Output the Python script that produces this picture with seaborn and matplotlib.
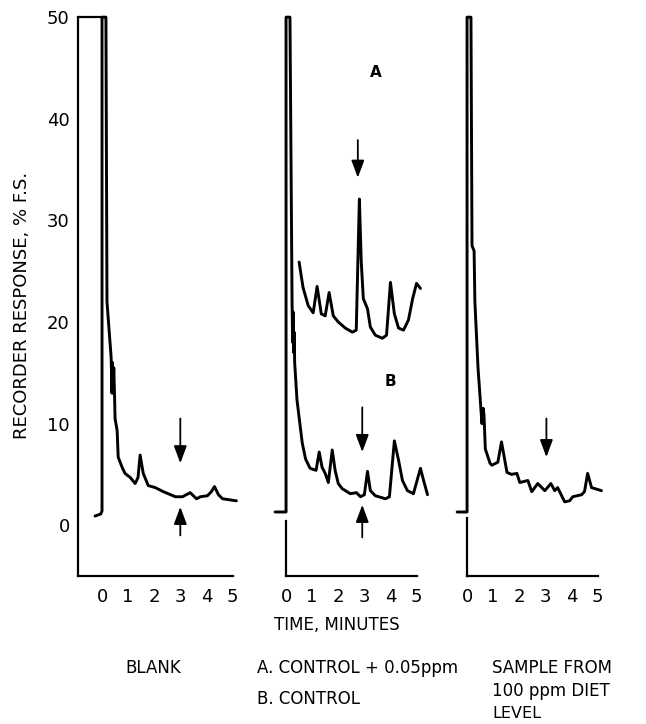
# Chromatograms: blank, control (+ spike) and diet sample
import numpy as np
import matplotlib
matplotlib.use("Agg")
import matplotlib.pyplot as plt
import pandas as pd
import seaborn as sns

# Trace data (time in minutes, recorder response in % full scale)
blank_time = [-0.27, -0.05, 0.0, 0.0, 0.15, 0.19, 0.35, 0.38, 0.40, 0.43, 0.45, 0.48, 0.50, 0.58, 0.62,
              0.77, 0.88, 1.08, 1.27, 1.38, 1.46, 1.58, 1.77, 2.04, 2.35, 2.81, 3.08, 3.23, 3.38, 3.62,
              3.77, 4.04, 4.19, 4.31, 4.46, 4.62, 5.15]
blank_resp = [0.9, 1.1, 1.4, 50, 50, 22, 16.5, 13, 16, 13, 15.5, 12.8, 10.5, 9.3, 6.7,
              5.7, 5.1, 4.7, 4.1, 4.7, 6.9, 5.1, 3.9, 3.7, 3.3, 2.8, 2.8, 3.0, 3.2, 2.6,
              2.8, 2.9, 3.3, 3.8, 3.0, 2.6, 2.4]

control_time = [-0.42, 0.0, 0.0, 0.15, 0.23, 0.25, 0.27, 0.29, 0.31, 0.33, 0.42, 0.62, 0.75, 0.92,
                1.15, 1.27, 1.38, 1.50, 1.62, 1.77, 1.88, 2.00, 2.15, 2.46, 2.70, 2.85, 3.00, 3.12,
                3.23, 3.42, 3.81, 3.96, 4.15, 4.31, 4.46, 4.65, 4.88, 5.15, 5.27, 5.42]
control_resp = [1.3, 1.3, 50, 50, 22, 18, 21, 17, 19, 16, 12.3, 8.1, 6.5, 5.6,
                5.4, 7.2, 5.7, 5.1, 4.2, 7.4, 5.4, 4.1, 3.6, 3.1, 3.2, 2.8, 3.0, 5.3,
                3.4, 2.9, 2.6, 2.8, 8.3, 6.4, 4.4, 3.4, 3.1, 5.6, 4.4, 3.0]

spiked_time = [0.50, 0.65, 0.85, 1.04, 1.19, 1.35, 1.50, 1.65, 1.81, 2.00, 2.27, 2.54, 2.69, 2.77,
               2.81, 2.88, 2.96, 3.12, 3.23, 3.42, 3.69, 3.85, 4.00, 4.15, 4.31, 4.50, 4.69, 4.85,
               5.00, 5.15]
spiked_resp = [25.9, 23.4, 21.6, 20.9, 23.5, 20.8, 20.6, 22.9, 20.6, 20.0, 19.4, 19.0, 19.2, 28.0,
               32.1, 26.0, 22.3, 21.3, 19.5, 18.7, 18.4, 18.7, 23.9, 20.8, 19.4, 19.2, 20.2, 22.3,
               23.8, 23.3]

sample_time = [-0.38, 0.0, 0.0, 0.15, 0.19, 0.27, 0.30, 0.42, 0.57, 0.62, 0.65, 0.70, 0.88, 0.95,
               1.18, 1.32, 1.53, 1.70, 1.91, 2.02, 2.33, 2.48, 2.71, 2.98, 3.21, 3.36, 3.47, 3.74,
               3.93, 4.05, 4.39, 4.50, 4.62, 4.77, 5.15]
sample_resp = [1.3, 1.3, 50, 50, 27.5, 27, 22, 15.5, 10, 11.5, 10.8, 7.5, 6.1, 5.9,
               6.2, 8.2, 5.2, 5.0, 5.1, 4.2, 4.4, 3.3, 4.1, 3.4, 4.1, 3.4, 3.7, 2.3,
               2.4, 2.8, 3.0, 3.3, 5.1, 3.7, 3.4]

x_ticks = [0, 1, 2, 3, 4, 5]
y_ticks = [0, 10, 20, 30, 40, 50]
marker_time = 3  # retention time marked by arrows

sns.set_style("white")
plt.rcParams['font.family'] = ['DejaVu Sans']
plt.rcParams['text.color'] = 'black'

fig = plt.figure(figsize=(6.46, 7.24), dpi=100)
W, H = 646, 724

def px_axes(left, right_t, xlim):
    # left pixel of axes, x scale 26 px / minute, y from -5 to 51
    width = (xlim[1] - xlim[0]) * 26.1
    ax = fig.add_axes([left / W, (H - 576) / H, width / W, 569 / H])
    ax.set_xlim(*xlim)
    ax.set_ylim(-5, 51)
    ax.set_facecolor("none")
    for s in ["top", "right"]:
        ax.spines[s].set_visible(False)
    for s in ["left", "bottom"]:
        ax.spines[s].set_linewidth(1.6)
        ax.spines[s].set_color("black")
    ax.spines["bottom"].set_bounds(right_t, 5.02)
    ax.set_xticks(x_ticks)
    ax.set_xticklabels([str(t) for t in x_ticks], fontsize=13)
    ax.tick_params(axis="x", direction="in", length=14.5, width=1.3, pad=9,
                   colors="black", labelcolor="black")
    ax.set_xlabel("")
    ax.set_ylabel("")
    return ax

def trace(ax, t, r, lw=2.1):
    df = pd.DataFrame({"time": t, "response": r})
    sns.lineplot(data=df, x="time", y="response", sort=False, estimator=None,
                 color="black", lw=lw, ax=ax, clip_on=False)
    ax.set_xlabel("")
    ax.set_ylabel("")

def arrow(ax, t, start, end):
    ax.annotate("", xy=(t, end), xytext=(t, start),
                arrowprops=dict(arrowstyle="-|>,head_width=0.28,head_length=0.75",
                                mutation_scale=14, color="black", lw=1.3,
                                shrinkA=0, shrinkB=0))

# Blank
ax1 = px_axes(78, -0.92, (-0.92, 5.35))
ax1.spines["left"].set_bounds(-5, 50)
ax1.set_yticks(y_ticks)
ax1.set_yticklabels([str(v) for v in y_ticks], fontsize=13)
ax1.tick_params(axis="y", direction="in", length=16.5, width=1.3, pad=6,
                colors="black", labelcolor="black")
ax1.hlines(50, -0.92, 0, color="black", lw=1.6)
trace(ax1, blank_time, blank_resp)
arrow(ax1, marker_time, 10.5, 6.1)
arrow(ax1, marker_time, -1.0, 1.8)

# Control (A spiked, B control)
ax2 = px_axes(273, 0, (-0.5, 5.6))
ax2.spines["left"].set_position(("data", 0))
ax2.spines["left"].set_bounds(-5, 0.4)
ax2.set_yticks([])
trace(ax2, control_time, control_resp)
trace(ax2, spiked_time, spiked_resp)
arrow(ax2, marker_time - 0.25, 37.9, 34.2)
arrow(ax2, marker_time - 0.08, 11.6, 7.2)
arrow(ax2, marker_time - 0.08, -1.2, 2.0)
ax2.text(3.42, 44.6, "A", fontsize=11, fontweight="bold", ha="center", va="center", color="black")
ax2.text(4.0, 14.1, "B", fontsize=11, fontweight="bold", ha="center", va="center", color="black")

# Sample from diet
ax3 = px_axes(454, 0, (-0.5, 5.4))
ax3.spines["left"].set_position(("data", 0))
ax3.spines["left"].set_bounds(-5, 0.7)
ax3.set_yticks([])
trace(ax3, sample_time, sample_resp)
arrow(ax3, marker_time + 0.04, 10.5, 6.7)

# Labels
txt = dict(color="black", va="center")
fig.text(22 / W, 1 - 305 / H, "RECORDER RESPONSE, % F.S.", rotation=90, fontsize=13,
         ha="center", **txt)
fig.text(337 / W, 1 - 625 / H, "TIME, MINUTES", fontsize=12, ha="center", **txt)
fig.text(125 / W, 1 - 668 / H, "BLANK", fontsize=12, ha="left", **txt)
fig.text(257 / W, 1 - 668 / H, "A. CONTROL + 0.05ppm", fontsize=12, ha="left", **txt)
fig.text(257 / W, 1 - 699 / H, "B. CONTROL", fontsize=12, ha="left", **txt)
fig.text(492 / W, 1 - 668 / H, "SAMPLE FROM", fontsize=12, ha="left", **txt)
fig.text(492 / W, 1 - 691 / H, "100 ppm DIET", fontsize=12, ha="left", **txt)
fig.text(492 / W, 1 - 713 / H, "LEVEL", fontsize=11.5, ha="left", **txt)

fig.savefig("out.png", dpi=100)
